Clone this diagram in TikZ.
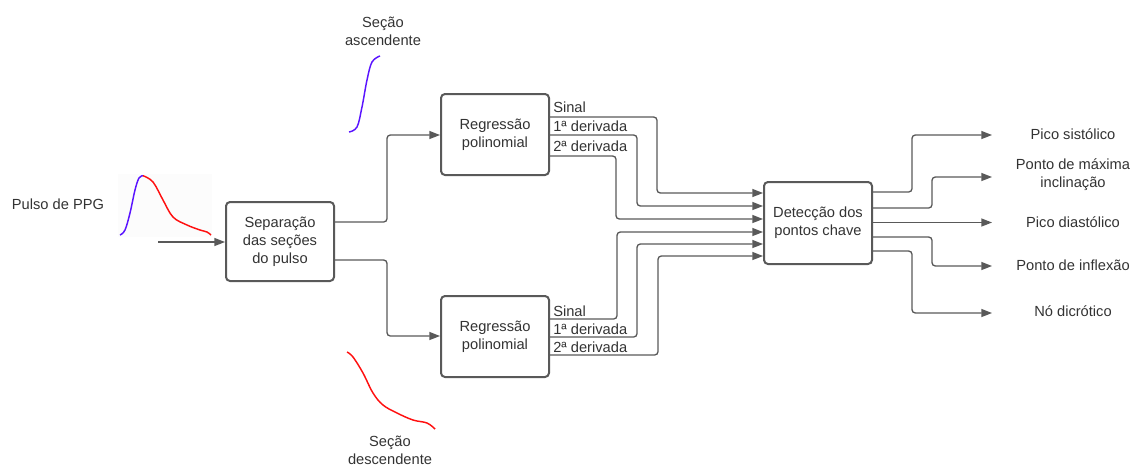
\documentclass[tikz,border=0pt]{standalone}
\usepackage{fontspec}
\setmainfont{Liberation Sans}
\usetikzlibrary{arrows.meta}
\definecolor{ln}{HTML}{595959}
\definecolor{tx}{HTML}{333333}
\definecolor{asc}{HTML}{5A14FF}
\definecolor{dsc}{HTML}{FF1010}
\begin{document}
\begin{tikzpicture}[x=0.75pt,y=-0.75pt,
  font=\fontsize{11}{13.5}\selectfont,
  box/.style={draw=ln,line width=1.5pt,rounded corners=3pt,fill=white,text=tx,align=center,minimum width=81pt,inner sep=0pt},
  conn/.style={draw=ln,line width=1pt,rounded corners=2.5pt,-{Triangle[length=8pt,width=6pt]}},
  lbl/.style={text=tx,align=center,inner sep=0pt},
  slbl/.style={text=tx,anchor=west,inner sep=0pt}]
\useasboundingbox (0,0) rectangle (1134,465);
% boxes
\node[box,minimum height=59.25pt] (sep) at (280,241.5) {Separação\\das seções\\do pulso};
\node[box,minimum height=60.75pt] (rt) at (495,134.5) {Regressão\\polinomial};
\node[box,minimum height=60.75pt] (rb) at (495,336.5) {Regressão\\polinomial};
\node[box,minimum height=61.5pt] (det) at (818,223) {Detecção dos\\pontos chave};
% text labels
\node[lbl] (ppg) at (58,204) {Pulso de PPG};
\node[lbl] (asl) at (383,31.5) {Seção\\ascendente};
\node[lbl] (dsl) at (390,450) {Seção\\descendente};
\node[lbl] (o1) at (1073,134) {Pico sistólico};
\node[lbl] (o2) at (1073,174.5) {Ponto de máxima\\inclinação};
\node[lbl] (o3) at (1073,222) {Pico diastólico};
\node[lbl] (o4) at (1073,265) {Ponto de inflexão};
\node[lbl] (o5) at (1073,311) {Nó dicrótico};
% curves
\fill[black!1] (118,174) rectangle (212,237);
\draw[asc,line width=1.1pt] plot[smooth,tension=0.6] coordinates {(120,235) (125,230) (130,213) (135,190) (139,178) (143,175.7)};
\draw[dsc,line width=1.1pt] plot[smooth,tension=0.6] coordinates {(143,175.7) (153,182) (163,200) (173,217) (187,225) (200,230) (207,232) (211,235)};
\draw[asc,line width=1.1pt] plot[smooth,tension=0.6] coordinates {(349,132) (357,127) (362,107) (367,80) (372,62) (380,56)};
\draw[dsc,line width=1.1pt] plot[smooth,tension=0.6] coordinates {(347,352) (353,357) (363,373) (373,393) (383,405) (397,413) (413,420) (427,423) (435,429)};
% input
\coordinate (in) at (158,242);
\draw[conn] (in) -- (sep.west |- in);
% sep -> reg
\draw[conn] (sep.east |- 0,222) -- (387,222) -- (387,135) -- (rt.west |- 0,135);
\draw[conn] (sep.east |- 0,260) -- (387,260) -- (387,336) -- (rb.west |- 0,336);
% top reg -> det
\draw[conn] (rt.east |- 0,117) -- (657,117) -- (657,193) -- (det.west |- 0,193);
\draw[conn] (rt.east |- 0,135) -- (637,135) -- (637,206) -- (det.west |- 0,206);
\draw[conn] (rt.east |- 0,156) -- (616,156) -- (616,219) -- (det.west |- 0,219);
% bottom reg -> det
\draw[conn] (rb.east |- 0,319) -- (617,319) -- (617,232) -- (det.west |- 0,232);
\draw[conn] (rb.east |- 0,337) -- (637,337) -- (637,244) -- (det.west |- 0,244);
\draw[conn] (rb.east |- 0,355) -- (658,355) -- (658,256) -- (det.west |- 0,256);
% signal labels
\node[slbl] (s1) at (553,107) {Sinal};
\node[slbl] (d1) at (553,126) {1ª derivada};
\node[slbl] (e1) at (553,146) {2ª derivada};
\node[slbl] (s2) at (553,311) {Sinal};
\node[slbl] (d2) at (553,329) {1ª derivada};
\node[slbl] (e2) at (553,347) {2ª derivada};
% det outputs
\coordinate (t1) at (992,135);
\coordinate (t2) at (992,177);
\coordinate (t3) at (992,222.5);
\coordinate (t4) at (992,266);
\coordinate (t5) at (992,313);
\draw[conn] (det.east |- 0,192) -- (912,192) -- (912,135) -- (t1);
\draw[conn] (det.east |- 0,208) -- (932,208) -- (932,177) -- (t2);
\draw[conn] (det.east |- 0,222.5) -- (t3);
\draw[conn] (det.east |- 0,237) -- (932,237) -- (932,266) -- (t4);
\draw[conn] (det.east |- 0,251) -- (912,251) -- (912,313) -- (t5);
\end{tikzpicture}
\end{document}
